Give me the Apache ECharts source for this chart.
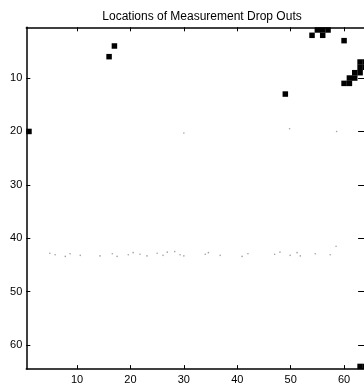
<!DOCTYPE html>
<html>
<head>
<meta charset="utf-8">
<script src="https://cdn.jsdelivr.net/npm/echarts@6/dist/echarts.min.js"></script>
<style>
  html, body { margin: 0; padding: 0; background: #fff; }
  #chart { width: 364px; height: 385px; }
</style>
</head>
<body>
<div id="chart"></div>
<script>
// Grid cells (column, row) where the measurement dropped out
var dropCols = [1, 16, 17, 49, 54, 56, 55, 56, 57, 60, 63, 64, 63, 64, 62, 63, 61, 62, 60, 61, 63, 64];
var dropRows = [20, 6, 4, 13, 2, 2, 1, 1, 1, 3, 7, 7, 8, 8, 9, 9, 10, 10, 11, 11, 64, 64];

// Faint partial readings, mostly along row 43
var faintCols = [4.9, 5.9, 7.8, 8.7, 10.6, 14.3, 16.6, 17.5, 19.6, 20.5, 21.8, 23.1, 25.0, 26.1, 26.9, 28.3, 29.3, 30.0,
                 34.0, 34.6, 36.8, 40.9, 42.0, 47.0, 48.0, 49.9, 51.2, 51.8, 54.6, 57.4, 30.0, 49.8, 58.6, 58.5];
var faintRows = [42.8, 43.1, 43.4, 42.9, 43.2, 43.3, 42.9, 43.4, 43.1, 42.7, 43.0, 43.3, 42.8, 43.2, 42.6, 42.5, 43.1, 43.3,
                 43.0, 42.7, 43.2, 43.4, 42.9, 43.0, 42.6, 43.2, 42.7, 43.3, 42.9, 43.1, 20.3, 19.5, 20.0, 41.5];

var xTicks = [10, 20, 30, 40, 50, 60];
var yTicks = [10, 20, 30, 40, 50, 60];

var FONT = 'Liberation Sans, Arial, Helvetica, sans-serif';

function zip(a, b) {
  var out = [];
  for (var i = 0; i < a.length; i++) out.push([a[i], b[i]]);
  return out;
}

function axisBase(extra) {
  var base = {
    type: 'value',
    min: 0.5,
    max: 64.5,
    axisLine: { show: true, onZero: false, lineStyle: { color: '#000', width: 1.5 } },
    axisTick: { show: true, inside: true, length: 4, customValues: xTicks, lineStyle: { color: '#000', width: 1 } },
    axisLabel: { show: false },
    splitLine: { show: false }
  };
  for (var k in extra) base[k] = extra[k];
  return base;
}

var chart = echarts.init(document.getElementById('chart'), null, { renderer: 'canvas' });

chart.setOption({
  backgroundColor: '#fff',
  animation: false,
  title: {
    text: 'Locations of Measurement Drop Outs',
    left: 197,
    top: 6,
    textAlign: 'center',
    textStyle: { fontFamily: FONT, fontSize: 12, fontWeight: 'normal', color: '#000' }
  },
  grid: {
    left: 26.3,
    top: 27.3,
    width: 341.8,
    height: 341.8,
    containLabel: false,
    outerBoundsMode: 'none'
  },
  xAxis: [
    axisBase({
      position: 'bottom',
      axisLabel: { show: true, customValues: xTicks, margin: 5, color: '#000', fontFamily: FONT, fontSize: 11 }
    }),
    axisBase({ position: 'top' })
  ],
  yAxis: [
    axisBase({
      position: 'left',
      inverse: true,
      axisTick: { show: true, inside: true, length: 4, customValues: yTicks, lineStyle: { color: '#000', width: 1 } },
      axisLabel: { show: true, customValues: yTicks, margin: 4, color: '#000', fontFamily: FONT, fontSize: 11 }
    }),
    axisBase({
      position: 'right',
      inverse: true,
      axisTick: { show: true, inside: true, length: 10, customValues: yTicks, lineStyle: { color: '#000', width: 1 } }
    })
  ],
  series: [
    {
      name: 'faint',
      type: 'scatter',
      data: zip(faintCols, faintRows),
      symbol: 'circle',
      symbolSize: 1.6,
      itemStyle: { color: '#777', opacity: 0.7 },
      silent: true,
      z: 1
    },
    {
      name: 'drop outs',
      type: 'scatter',
      data: zip(dropCols, dropRows),
      symbol: 'rect',
      symbolSize: 5.5,
      itemStyle: { color: '#000', opacity: 1 },
      z: 2
    }
  ]
});
</script>
</body>
</html>
